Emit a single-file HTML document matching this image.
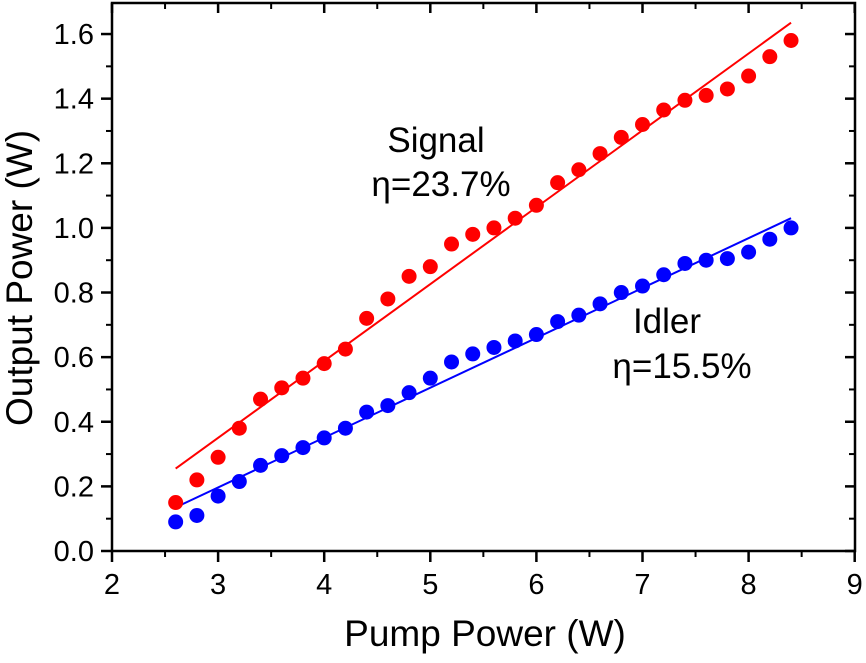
<!DOCTYPE html>
<html><head><meta charset="utf-8"><style>
body{margin:0;background:#fff;width:866px;height:658px;overflow:hidden}
svg text{font-family:"Liberation Sans",Arial,sans-serif;fill:#000}
</style></head><body>
<svg id="s" width="866" height="658" viewBox="0 0 866 658" xmlns="http://www.w3.org/2000/svg"></svg>
<script>
const s=document.getElementById('s');
const X=v=>112+(v-2)*106.1, Y=v=>551-v*323.1;
let h='';
h+='<rect x="112" y="3" width="743" height="548" fill="none" stroke="#000" stroke-width="2.5"/>';
for(let i=2;i<=9;i++){const x=X(i);h+=`<line x1="${x}" y1="551" x2="${x}" y2="562" stroke="#000" stroke-width="2.5"/><line x1="${x}" y1="3" x2="${x}" y2="13" stroke="#000" stroke-width="2.5"/><text x="${x}" y="594" font-size="29" text-anchor="middle">${i}</text>`;
 if(i<9){const m=X(i+0.5);h+=`<line x1="${m}" y1="551" x2="${m}" y2="557" stroke="#000" stroke-width="2"/><line x1="${m}" y1="3" x2="${m}" y2="9" stroke="#000" stroke-width="2"/>`;}}
for(let i=0;i<=8;i++){const v=i*0.2,y=Y(v);h+=`<line x1="101" y1="${y}" x2="112" y2="${y}" stroke="#000" stroke-width="2.5"/><line x1="855" y1="${y}" x2="845" y2="${y}" stroke="#000" stroke-width="2.5"/><text x="94" y="${y+10}" font-size="29" text-anchor="end">${v.toFixed(1)}</text>`;
 const m=Y(v+0.1);if(m>3){h+=`<line x1="106" y1="${m}" x2="112" y2="${m}" stroke="#000" stroke-width="2"/><line x1="855" y1="${m}" x2="849" y2="${m}" stroke="#000" stroke-width="2"/>`;}}
const sig=[0.15,0.22,0.29,0.38,0.47,0.505,0.535,0.58,0.625,0.72,0.78,0.85,0.88,0.95,0.98,1.0,1.03,1.07,1.14,1.18,1.23,1.28,1.32,1.365,1.395,1.41,1.43,1.47,1.53,1.58];
const idl=[0.09,0.11,0.17,0.215,0.265,0.295,0.32,0.35,0.38,0.43,0.45,0.49,0.535,0.585,0.61,0.63,0.65,0.67,0.71,0.73,0.765,0.8,0.82,0.855,0.89,0.9,0.905,0.925,0.965,1.0];
h+=`<line x1="${X(2.6)}" y1="${Y(0.255)}" x2="${X(8.4)}" y2="${Y(1.635)}" stroke="#f00" stroke-width="2"/>`;
h+=`<line x1="${X(2.6)}" y1="${Y(0.135)}" x2="${X(8.4)}" y2="${Y(1.03)}" stroke="#00f" stroke-width="2"/>`;
sig.forEach((v,i)=>h+=`<circle cx="${X(2.6+0.2*i)}" cy="${Y(v)}" r="7.5" fill="#f00"/>`);
idl.forEach((v,i)=>h+=`<circle cx="${X(2.6+0.2*i)}" cy="${Y(v)}" r="7.5" fill="#00f"/>`);
h+='<text x="436" y="152" font-size="35" text-anchor="middle">Signal</text><text x="441" y="196" font-size="35" text-anchor="middle">η=23.7%</text>';
h+='<text x="667" y="333" font-size="35" text-anchor="middle">Idler</text><text x="682" y="378" font-size="35" text-anchor="middle">η=15.5%</text>';
h+='<text x="485" y="646" font-size="37" text-anchor="middle">Pump Power (W)</text>';
h+='<text transform="translate(32,278) rotate(-90)" font-size="37" text-anchor="middle">Output Power (W)</text>';
s.innerHTML=h;
</script>
</body></html>
